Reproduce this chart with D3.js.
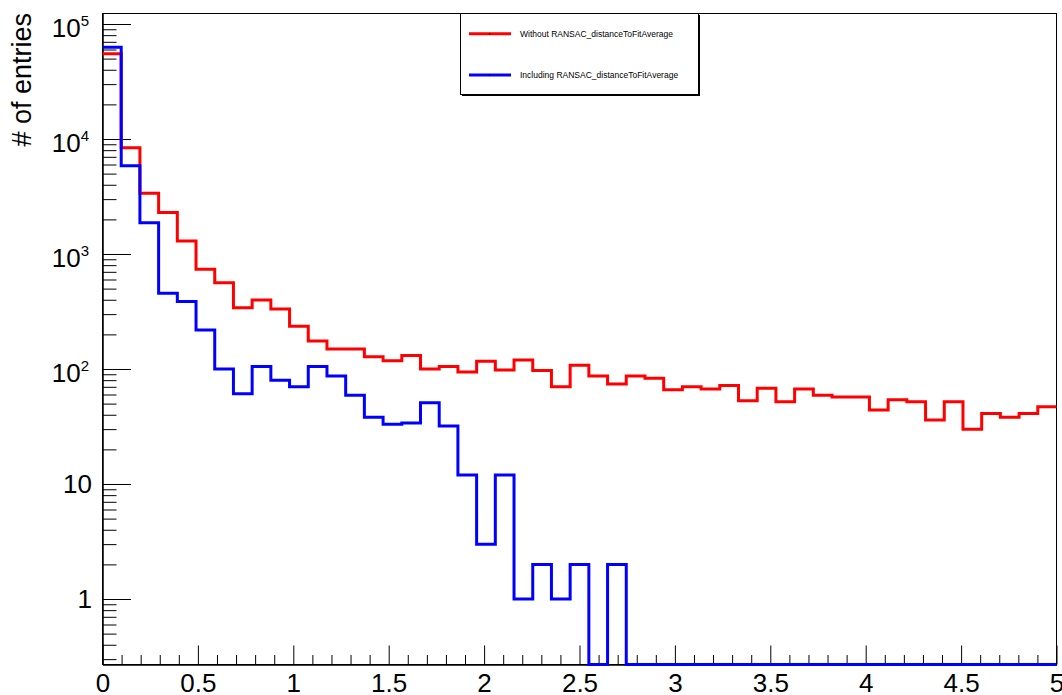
<!DOCTYPE html>
<html>
<head>
<meta charset="utf-8">
<script src="https://cdn.jsdelivr.net/npm/d3@7"></script>
<style>
  body { margin: 0; background: #fff; }
  svg { display: block; font-family: "Liberation Sans", Arial, Helvetica, sans-serif; }
</style>
</head>
<body>
<div id="chart"></div>
<script>
// histogram contents, 51 bins from 0 to 5
var binCount = 51;
var xMin = 0, xMax = 5;

var withoutRansac = [55200, 8400, 3370, 2290, 1300, 736, 563, 341, 398, 332,
                     235, 175, 149, 149, 128, 118, 131, 100, 105, 94,
                     117, 98, 120, 97, 70, 108, 87, 74, 87, 83,
                     66, 70, 67, 72, 53, 68, 52, 67, 59, 57,
                     57, 44, 54, 52, 36, 52, 30, 41, 38, 41,
                     47];

var includingRansac = [62700, 5860, 1870, 455, 386, 218, 100, 61, 105, 80,
                       70, 105, 87, 59, 38, 33, 34, 51, 32, 12,
                       3, 12, 1, 2, 1, 2, 0, 2, 0, 0,
                       0, 0, 0, 0, 0, 0, 0, 0, 0, 0,
                       0, 0, 0, 0, 0, 0, 0, 0, 0, 0,
                       0];

var seriesNames = ["Without RANSAC_distanceToFitAverage", "Including RANSAC_distanceToFitAverage"];
var seriesColors = ["#ff0000", "#0000ff"];

// axis ticks
var xMajorTicks = [0, 0.5, 1, 1.5, 2, 2.5, 3, 3.5, 4, 4.5, 5];
var xTickLabels = ["0", "0.5", "1", "1.5", "2", "2.5", "3", "3.5", "4", "4.5", "5"];
var yMajorTicks = [1, 10, 100, 1000, 10000, 100000];
var yTickBase = ["1", "10", "10", "10", "10", "10"];
var yTickExp = ["", "", "2", "3", "4", "5"];
var yTitle = "# of entries";

// SVG area
var svgWidth = 1062;
var svgHeight = 695;
var frame = {left: 102.5, right: 1056.5, top: 13.5, bottom: 664.5};

var svg = d3.select("#chart")
            .append("svg")
            .attr("width", svgWidth)
            .attr("height", svgHeight);

// scales
var x = d3.scaleLinear()
          .domain([xMin, xMax])
          .range([frame.left, frame.right]);

var yLow = 0.2694, yHigh = 123400;
var y = d3.scaleLog()
          .domain([yLow, yHigh])
          .range([frame.bottom, frame.top]);

// minor ticks
var xMinorTicks = d3.range(0, 51).map(function(i) { return i / 10; })
                    .filter(function(v) { return xMajorTicks.indexOf(v) < 0; });
var yMinorTicks = [];
for (var d = -1; d <= 5; d++) {
  for (var m = 2; m <= 9; m++) {
    var v = m * Math.pow(10, d);
    if (v > yLow && v < yHigh) yMinorTicks.push(v);
  }
}

// frame
svg.append("rect")
   .attr("x", frame.left)
   .attr("y", frame.top)
   .attr("width", frame.right - frame.left)
   .attr("height", frame.bottom - frame.top)
   .attr("fill", "none")
   .attr("stroke", "#000")
   .attr("stroke-width", 1);

// x axis, ticks pointing up into the frame
var xAxis = svg.append("g")
   .attr("transform", "translate(0," + frame.bottom + ")")
   .call(d3.axisBottom(x).tickValues(xMajorTicks).tickSize(-19).tickSizeOuter(0)
           .tickPadding(0).tickFormat(function(d, i) { return xTickLabels[i]; }));
svg.append("g")
   .attr("transform", "translate(0," + frame.bottom + ")")
   .call(d3.axisBottom(x).tickValues(xMinorTicks).tickSize(-9.5).tickSizeOuter(0).tickFormat(""));

xAxis.selectAll(".tick text")
     .attr("y", 27)
     .attr("dy", null)
     .attr("font-size", 26)
     .attr("font-family", "Liberation Sans, Arial, sans-serif")
     .attr("fill", "#000");

// y axis, ticks pointing right into the frame
var yAxis = svg.append("g")
   .attr("transform", "translate(" + frame.left + ",0)")
   .call(d3.axisLeft(y).tickValues(yMajorTicks).tickSize(-28.5).tickSizeOuter(0).tickFormat(""));
svg.append("g")
   .attr("transform", "translate(" + frame.left + ",0)")
   .call(d3.axisLeft(y).tickValues(yMinorTicks).tickSize(-14).tickSizeOuter(0).tickFormat(""));

svg.selectAll(".domain").attr("stroke", "#000");
svg.selectAll(".tick line").attr("stroke", "#000").attr("stroke-width", 1);

// y labels with exponents
yMajorTicks.forEach(function(t, i) {
  var lab = svg.append("text")
     .attr("text-anchor", "end")
     .attr("font-size", 26)
     .attr("fill", "#000");
  if (yTickExp[i] === "") {
    lab.attr("x", 92).attr("y", y(t) + 9.5).text(yTickBase[i]);
  } else {
    lab.attr("x", 89).attr("y", y(t) + 12.8);
    lab.append("tspan").text(yTickBase[i]);
    lab.append("tspan").attr("font-size", 15).attr("dy", -10.5).text(yTickExp[i]);
  }
});

// y title
svg.append("text")
   .attr("transform", "translate(30.5,13) rotate(-90)")
   .attr("text-anchor", "end")
   .attr("font-size", 27)
   .attr("fill", "#000")
   .text(yTitle);

// histograms as step lines
var edges = d3.range(binCount + 1).map(function(i) { return xMin + i * (xMax - xMin) / binCount; });

function stepPoints(values) {
  var pts = values.map(function(v, i) { return [edges[i], v]; });
  pts.push([edges[binCount], values[binCount - 1]]);
  return pts;
}

var line = d3.line()
             .curve(d3.curveStepAfter)
             .x(function(p) { return x(p[0]); })
             .y(function(p) { return y(Math.max(p[1], yLow)); });

[withoutRansac, includingRansac].forEach(function(vals, i) {
  svg.append("path")
     .datum(stepPoints(vals))
     .attr("d", line)
     .attr("fill", "none")
     .attr("stroke", seriesColors[i])
     .attr("stroke-width", 3);
});

// legend
var legend = svg.append("g");
legend.append("rect")
      .attr("x", 462).attr("y", 15)
      .attr("width", 238).attr("height", 81)
      .attr("fill", "#000");
legend.append("rect")
      .attr("x", 460.5).attr("y", 13.5)
      .attr("width", 238).attr("height", 81)
      .attr("fill", "#fff")
      .attr("stroke", "#000")
      .attr("stroke-width", 1);

var legendY = [33.7, 75];
seriesNames.forEach(function(name, i) {
  legend.append("line")
        .attr("x1", 469).attr("x2", 511)
        .attr("y1", legendY[i]).attr("y2", legendY[i])
        .attr("stroke", seriesColors[i])
        .attr("stroke-width", 3);
  legend.append("rect")
        .attr("x", 489).attr("y", legendY[i] - 0.5)
        .attr("width", 1.2).attr("height", 1.2)
        .attr("fill", "#000");
  legend.append("text")
        .attr("x", 520).attr("y", legendY[i] + 3)
        .attr("font-size", 8.5)
        .attr("fill", "#000")
        .text(name);
});
</script>
</body>
</html>
